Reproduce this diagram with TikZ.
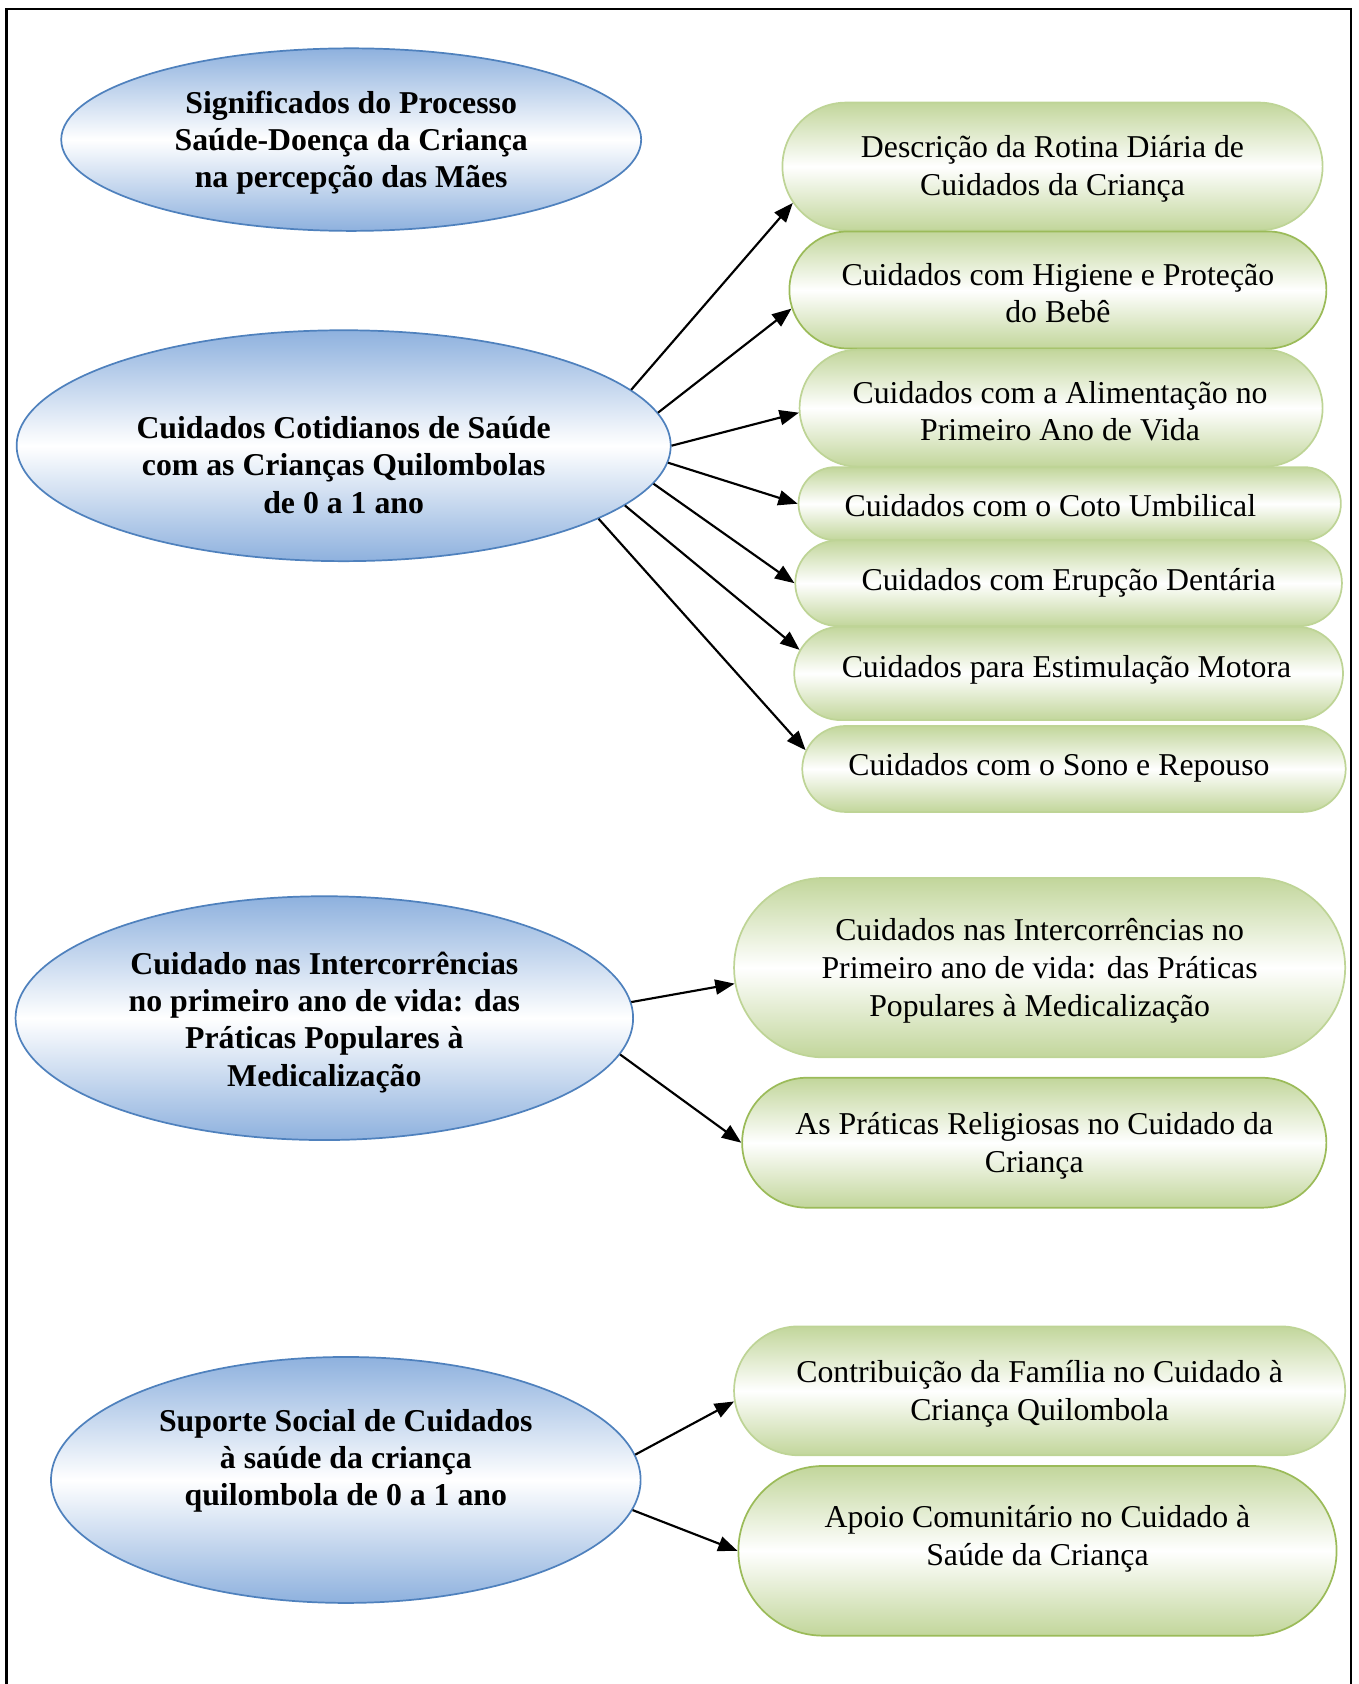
\documentclass[tikz,border=0pt]{standalone}
\usepackage{fontspec}
\setmainfont{Liberation Serif}
\usetikzlibrary{shapes.geometric,shapes.misc,arrows.meta}
\definecolor{blueC}{RGB}{142,177,222}
\definecolor{blueB}{RGB}{79,129,189}
\definecolor{greenC}{RGB}{194,214,155}
\definecolor{greenB}{RGB}{155,187,89}
\definecolor{greenL}{RGB}{190,212,150}
\tikzset{
  bellipse/.style={ellipse, draw=blueB, line width=0.8pt, top color=blueC, bottom color=blueC, middle color=white,
    inner sep=0pt},
  gbox/.style={rounded rectangle, draw=greenL, line width=0.8pt, top color=greenC, bottom color=greenC, middle color=white,
    inner sep=0pt},
  gdark/.style={draw=greenB},
  btxt/.style={inner sep=0pt, align=center, font=\fontsize{14.8}{17.3}\selectfont\bfseries},
  gtxt/.style={inner sep=0pt, align=center, font=\fontsize{14.8}{17.5}\selectfont},
  arr/.style={-{Triangle[length=9pt,width=7pt]}, line width=1pt, black},
}
\begin{document}
\begin{tikzpicture}[x=0.5pt,y=-0.5pt]
\useasboundingbox (0,0) rectangle (1265,1568);
\draw[line width=1pt] (6,1570) -- (6,8.6) -- (1258,8.6) -- (1258,1570);

% Ellipses
\node[bellipse, minimum width=270pt, minimum height=85pt] (A) at (327,130) {};
\node[btxt] (At) at (327,133)
  {Significados do Processo\\Saúde-Doença da Criança\\na percepção das Mães};
\node[bellipse, minimum width=304.5pt, minimum height=107.5pt] (B) at (320,415) {};
\node[btxt] (Bt) at (320,433)
  {Cuidados Cotidianos de Saúde\\com as Crianças Quilombolas\\de 0 a 1 ano};
\node[bellipse, minimum width=287.5pt, minimum height=113.5pt] (C) at (302,948) {};
\node[btxt] (Ct) at (302,952)
  {Cuidado nas Intercorrências\\no primeiro ano de vida: das\\Práticas Populares à\\Medicalização};
\node[bellipse, minimum width=274.5pt, minimum height=114.5pt] (D) at (322,1378) {};
\node[btxt] (Dt) at (322,1360)
  {Suporte Social de Cuidados\\à saúde da criança\\quilombola de 0 a 1 ano};

% Green boxes
\node[gbox, minimum width=251.5pt, minimum height=59.5pt] (G1) at (980,155) {};
\node[gtxt] (G1t) at (980,157) {Descrição da Rotina Diária de\\Cuidados da Criança};
\node[gbox, gdark, minimum width=250pt, minimum height=54.5pt] (G2) at (985,270) {};
\node[gtxt] (G2t) at (985,273) {Cuidados com Higiene e Proteção\\do Bebê};
\node[gbox, minimum width=243.5pt, minimum height=54.5pt] (G3) at (988,380) {};
\node[gtxt] (G3t) at (987,383) {Cuidados com a Alimentação no\\Primeiro Ano de Vida};
\node[gbox, minimum width=252.5pt, minimum height=34pt] (G4) at (996,469) {};
\node[gtxt] (G4t) at (978,471) {Cuidados com o Coto Umbilical};
\node[gbox, minimum width=254.5pt, minimum height=40pt] (G5) at (995,543) {};
\node[gtxt] (G5t) at (995,543) {Cuidados com Erupção Dentária};
\node[gbox, minimum width=255.5pt, minimum height=43.5pt] (G6) at (995,627) {};
\node[gtxt] (G6t) at (993,624) {Cuidados para Estimulação Motora};
\node[gbox, minimum width=253pt, minimum height=40pt] (G7) at (1000,716) {};
\node[gtxt] (G7t) at (986,715) {Cuidados com o Sono e Repouso};
\node[gbox, minimum width=284.5pt, minimum height=83.5pt] (G8) at (968,901) {};
\node[gtxt] (G8t) at (968,904)
  {Cuidados nas Intercorrências no\\Primeiro ano de vida: das Práticas\\Populares à Medicalização};
\node[gbox, gdark, minimum width=272pt, minimum height=60.5pt] (G9) at (963,1064) {};
\node[gtxt] (G9t) at (963,1067) {As Práticas Religiosas no Cuidado da\\Criança};
\node[gbox, minimum width=284.5pt, minimum height=60pt] (G10) at (968,1295) {};
\node[gtxt] (G10t) at (968,1298) {Contribuição da Família no Cuidado à\\Criança Quilombola};
\node[gbox, gdark, minimum width=278.5pt, minimum height=79pt] (G11) at (966,1444) {};
\node[gtxt] (G11t) at (966,1433) {Apoio Comunitário no Cuidado à\\Saúde da Criança};

% Arrows
\draw[arr] (B.11.5) -- (G1.188.3);
\draw[arr] (B.6.1) -- (G2.184.3);
\draw[arr] (B.0) -- (G3.181.2);
\draw[arr] (B.-3.8) -- (G4.180);
\draw[arr] (B.-7.9) -- (G5.180);
\draw[arr] (B.-12.6) -- (G6.175.2);
\draw[arr] (B.-16.3) -- (G7.176.5);
\draw[arr] (C.3.2) -- (G8.183.4);
\draw[arr] (C.-7.6) -- (G9.180);
\draw[arr] (D.5.5) -- (G10.182.6);
\draw[arr] (D.-6.0) -- (G11.180);
\end{tikzpicture}
\end{document}
